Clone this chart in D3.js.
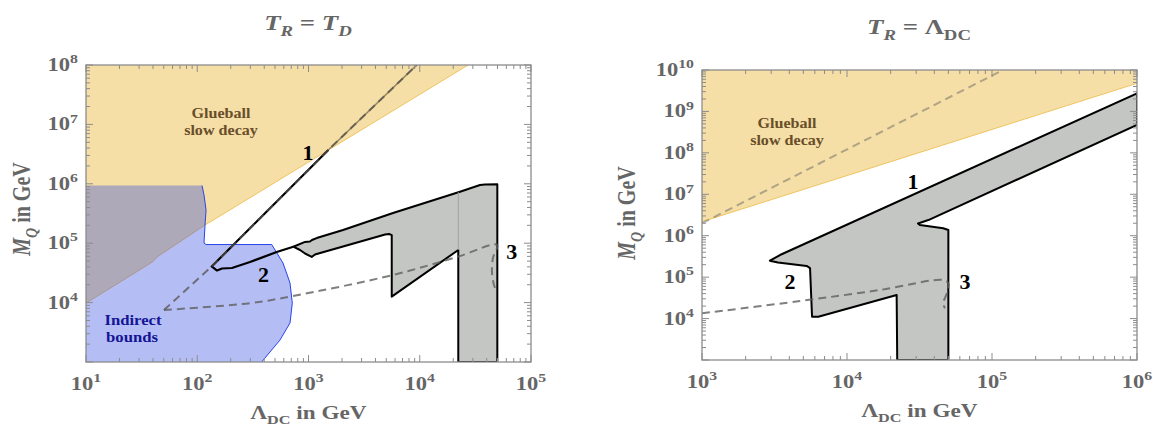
<!DOCTYPE html>
<html><head><meta charset="utf-8">
<script src="https://cdn.jsdelivr.net/npm/d3@7"></script>
<style>html,body{margin:0;padding:0;background:#fff}</style>
</head><body>
<svg id="c" width="1153" height="428"></svg>
<script>
// ---------------- DATA ----------------
// Left panel (T_R = T_D): x = Lambda_DC [GeV], y = M_Q [GeV]
const L_xTicks = [1e1, 1e2, 1e3, 1e4, 1e5];
const L_yTicks = [1e4, 1e5, 1e6, 1e7, 1e8];
const L_glueball = [[10,1e8],[2.72e4,1e8],[117.5,2.02e5],[43.5,5.86e4],[40,4.92e4],[37.6,4.55e4],[10,9.8e3]];
const L_indirect = [[10,9.35e5],[110.4,9.35e5],[115,6.47e5],[120,3.62e5],[117.5,2.02e5],[115,1.007e5],[120,9.5e4],
  [467,9.5e4],[590,4.64e4],[682,2.14e4],[715,9.8e3],[682,4.54e3],[554,2.34e3],[379,1e3],[10,1e3]];
const L_band = [[730,8.73e4],[931,1.05e5],[1031,1.07e5],[1074,1.13e5],[1185,1.22e5],[2044,1.67e5],[5754,3.22e5],
  [2.30e4,7.36e5],[3.48e4,9.55e5],[3.86e4,9.73e5],[4.98e4,9.8e5],[4.98e4,1e3],[2.22e4,1e3],[2.22e4,7.69e4],
  [5600,1.26e4],[5600,1.37e5],[5300,1.43e5],[4880,1.40e5],[1143,6.46e4],[1069,5.86e4],[931,6.71e4],[839,7.69e4]];
const L_bandSeam = [[2.22e4,7.69e4],[2.22e4,7.2e5]];
const L_line12 = [[1507,3.71e6],[134.9,4.06e4],[150.6,3.47e4],[166.9,3.75e4],[205,3.82e4],[298,4.83e4],[518,7.11e4],[730,8.73e4]];
const L_line1Ext = [[1507,3.71e6],[9.4e3,1e8]];
const L_dash1 = [[50.2,7.5e3],[134.9,4.06e4],[1507,3.71e6],[9.4e3,1e8]];
const L_dash2 = [[50.2,7.5e3],[298,9.8e3],[726,1.29e4],[5750,2.92e4],[2.16e4,5.86e4],[4.95e4,9.33e4],
  [4.55e4,5.64e4],[4.46e4,3.27e4],[4.65e4,1.98e4],[4.95e4,1.51e4]];
const L_labels = [["1",990,3.3e6],["2",393,2.92e4],["3",6.7e4,7.1e4]];

// Right panel (T_R = Lambda_DC)
const R_xTicks = [1e3, 1e4, 1e5, 1e6];
const R_yTicks = [1e4, 1e5, 1e6, 1e7, 1e8, 1e9, 1e10];
const R_glueball = [[1e3,1e10],[1e6,1e10],[1e6,4.77e9],[1e3,2.18e6]];
const R_band = [[1e6,2.74e9],[3.45e3,3.42e5],[2.94e3,2.5e5],[3.34e3,2.26e5],[5.27e3,1.86e5],[5.56e3,1.66e5],
  [5.74e3,1.11e4],[6.34e3,1.11e4],[2.2e4,3.71e4],[2.22e4,1e3],[5e4,1e3],[5e4,1.37e6],[4.61e4,1.51e6],
  [3.18e4,1.81e6],[3.09e4,1.97e6],[3.64e4,2.39e6],[1e6,4.7e8]];
const R_dash1 = [[1e3,2.0e6],[1.19e5,1e10]];
const R_dash2 = [[1e3,1.34e4],[4.74e3,2.65e4],[1.69e4,4.9e4],[4.61e4,8.53e4],[5.0e4,7.1e4],[4.88e4,4.07e4],[4.61e4,2.34e4],[4.74e4,1.77e4]];
const R_labels = [["1",2.85e4,2.0e7],["2",4.05e3,7.8e4],["3",6.5e4,7.8e4]];

// ---------------- DRAWING ----------------
const SERIF = '"Liberation Serif","DejaVu Serif","Times New Roman",serif';
const SX = 1.22;
const GRAY_TXT = '#666666';
const svg = d3.select('#c');

function rich(parent, x, y, segs, o) {
  const size = o.size, rot = o.rotate || 0;
  const tr = rot ? `translate(${x},${y}) rotate(${rot}) scale(1,${o.sx||SX})` : `translate(${x},${y}) scale(${o.sx||SX},1)`;
  const g = parent.append('g').attr('transform', tr);
  const t = g.append('text').attr('text-anchor', o.anchor || 'middle')
    .attr('font-family', SERIF).attr('font-weight', 'bold')
    .attr('font-size', size).attr('fill', o.fill || GRAY_TXT);
  let shift = 0;
  segs.forEach(s => {
    const ts = t.append('tspan').text(s.t);
    const target = s.sub ? size * 0.27 : s.sup ? -size * 0.42 : 0;
    ts.attr('dy', target - shift); shift = target;
    if (s.sub || s.sup) ts.attr('font-size', size * 0.7);
    if (s.i) ts.attr('font-style', 'italic');
  });
  return g;
}

function panel(cfg) {
  const x = d3.scaleLog().domain(cfg.xd).range([cfg.x0, cfg.x1]);
  const y = d3.scaleLog().domain(cfg.yd).range([cfg.y1, cfg.y0]);
  const g = svg.append('g');
  const clipId = 'clip' + cfg.id;
  svg.append('clipPath').attr('id', clipId).append('rect')
    .attr('x', cfg.x0).attr('y', cfg.y0).attr('width', cfg.x1 - cfg.x0).attr('height', cfg.y1 - cfg.y0);
  const pg = g.append('g').attr('clip-path', `url(#${clipId})`);
  const line = d3.line().x(d => x(d[0])).y(d => y(d[1]));
  return {x, y, g, pg, line};
}

function frameAndTicks(P, cfg) {
  const {x, y, g} = P;
  const col = '#8c8c8c';
  g.append('rect').attr('x', cfg.x0).attr('y', cfg.y0).attr('width', cfg.x1 - cfg.x0).attr('height', cfg.y1 - cfg.y0)
    .attr('fill', 'none').attr('stroke', col).attr('stroke-width', 1.3);
  const isMajor = v => Math.abs(Math.log10(v) - Math.round(Math.log10(v))) < 1e-6;
  const xt = x.ticks(); const yt = y.ticks();
  const tg = g.append('g').attr('stroke', col).attr('stroke-width', 1);
  xt.forEach(v => {
    const L = isMajor(v) ? 7 : 4, px = x(v);
    tg.append('line').attr('x1', px).attr('x2', px).attr('y1', cfg.y1).attr('y2', cfg.y1 - L);
    tg.append('line').attr('x1', px).attr('x2', px).attr('y1', cfg.y0).attr('y2', cfg.y0 + L);
  });
  yt.forEach(v => {
    const L = isMajor(v) ? 7 : 4, py = y(v);
    tg.append('line').attr('y1', py).attr('y2', py).attr('x1', cfg.x0).attr('x2', cfg.x0 + L);
    tg.append('line').attr('y1', py).attr('y2', py).attr('x1', cfg.x1).attr('x2', cfg.x1 - L);
  });
  cfg.xTicks.forEach(v => {
    rich(g, x(v), cfg.y1 + 28, [{t: '10'}, {t: String(Math.round(Math.log10(v))), sup: true}], {size: 18.5});
  });
  cfg.yTicks.forEach(v => {
    rich(g, cfg.x0 - 8, y(v) + 6, [{t: '10'}, {t: String(Math.round(Math.log10(v))), sup: true}], {size: 18.5, anchor: 'end'});
  });
  // axis titles
  rich(g, (cfg.x0 + cfg.x1) / 2, cfg.y1 + 57, [{t: 'Λ'}, {t: 'DC', sub: true}, {t: ' in GeV'}], {size: 19});
  rich(g, cfg.ytx, cfg.yty, [{t: 'M', i: true}, {t: 'Q', sub: true, i: true}, {t: ' in GeV'}], {size: 20, rotate: -90});
}

const cfgL = {id: 'L', x0: 86, x1: 531, y0: 65, y1: 362, xd: [10, 1e5], yd: [1e3, 1e8], xTicks: L_xTicks, yTicks: L_yTicks, ytx: 30, yty: 209};
const cfgR = {id: 'R', x0: 702, x1: 1137, y0: 70, y1: 360, xd: [1e3, 1e6], yd: [1e3, 1e10], xTicks: R_xTicks, yTicks: R_yTicks, ytx: 635, yty: 213};

const ORANGE = 'rgb(245,223,166)';
const BAND = 'rgb(196,198,195)';

// ---- Left panel ----
const PL = panel(cfgL);
{
  const {pg, line, x, y} = PL;
  pg.append('path').attr('d', line(L_glueball) + 'Z').attr('fill', ORANGE).attr('stroke', 'none');
  pg.append('path').attr('d', line(L_glueball.slice(1))).attr('fill', 'none').attr('stroke', 'rgb(240,196,96)').attr('stroke-width', 1);
  pg.append('path').attr('d', line(L_line1Ext)).attr('fill', 'none').attr('stroke', 'rgb(150,135,95)').attr('stroke-width', 1.6);
  pg.append('path').attr('d', line(L_indirect) + 'Z').attr('fill', 'rgb(37,64,223)').attr('fill-opacity', 0.34).attr('stroke', 'none');
  pg.append('path').attr('d', line(L_indirect.slice(1, -1))).attr('fill', 'none').attr('stroke', 'rgb(40,70,235)').attr('stroke-width', 1);
  pg.append('path').attr('d', line(L_band) + 'Z').attr('fill', BAND).attr('stroke', '#000').attr('stroke-width', 2).attr('stroke-linejoin', 'round');
  pg.append('path').attr('d', line(L_bandSeam)).attr('stroke', 'rgb(160,162,160)').attr('stroke-width', 1);
  pg.append('path').attr('d', line(L_line12)).attr('fill', 'none').attr('stroke', '#000').attr('stroke-width', 2.2).attr('stroke-linejoin', 'round');
  pg.append('path').attr('d', line(L_dash1)).attr('fill', 'none').attr('stroke', 'rgba(85,82,78,0.75)').attr('stroke-width', 2).attr('stroke-dasharray', '8,5');
  pg.append('path').attr('d', d3.line().x(d => x(d[0])).y(d => y(d[1])).curve(d3.curveCatmullRom)(L_dash2))
    .attr('fill', 'none').attr('stroke', 'rgba(95,95,95,0.8)').attr('stroke-width', 2).attr('stroke-dasharray', '8,5');
  // region labels
  rich(PL.g, 221, 118, [{t: 'Glueball'}], {size: 14, fill: 'rgb(105,78,42)', sx: 1.15});
  rich(PL.g, 221, 135, [{t: 'slow decay'}], {size: 14, fill: 'rgb(105,78,42)', sx: 1.15});
  rich(PL.g, 133, 325, [{t: 'Indirect'}], {size: 14.5, fill: 'rgb(20,20,150)', sx: 1.15});
  rich(PL.g, 132, 342, [{t: 'bounds'}], {size: 14.5, fill: 'rgb(20,20,150)', sx: 1.15});
  L_labels.forEach(d => rich(PL.g, x(d[1]), y(d[2]) + 7, [{t: d[0]}], {size: 20, fill: '#000', sx: 1.1}));
}
frameAndTicks(PL, cfgL);
rich(svg, 308, 30, [{t: 'T', i: true}, {t: 'R', sub: true, i: true}, {t: ' = '}, {t: 'T', i: true}, {t: 'D', sub: true, i: true}], {size: 22});

// ---- Right panel ----
const PR = panel(cfgR);
{
  const {pg, line, x, y} = PR;
  pg.append('path').attr('d', line(R_glueball) + 'Z').attr('fill', ORANGE).attr('stroke', 'none');
  pg.append('path').attr('d', line(R_glueball.slice(2))).attr('fill', 'none').attr('stroke', 'rgb(240,196,96)').attr('stroke-width', 1);
  pg.append('path').attr('d', line(R_band) + 'Z').attr('fill', BAND).attr('stroke', '#000').attr('stroke-width', 2).attr('stroke-linejoin', 'round');
  pg.append('path').attr('d', line(R_dash1)).attr('fill', 'none').attr('stroke', 'rgba(90,90,90,0.45)').attr('stroke-width', 2).attr('stroke-dasharray', '8,5');
  pg.append('path').attr('d', d3.line().x(d => x(d[0])).y(d => y(d[1])).curve(d3.curveCatmullRom)(R_dash2))
    .attr('fill', 'none').attr('stroke', 'rgba(95,95,95,0.8)').attr('stroke-width', 2).attr('stroke-dasharray', '8,5');
  rich(PR.g, 787, 128, [{t: 'Glueball'}], {size: 14, fill: 'rgb(105,78,42)', sx: 1.15});
  rich(PR.g, 787, 145, [{t: 'slow decay'}], {size: 14, fill: 'rgb(105,78,42)', sx: 1.15});
  R_labels.forEach(d => rich(PR.g, x(d[1]), y(d[2]) + 7, [{t: d[0]}], {size: 20, fill: '#000', sx: 1.1}));
}
frameAndTicks(PR, cfgR);
rich(svg, 919, 34, [{t: 'T', i: true}, {t: 'R', sub: true, i: true}, {t: ' = Λ'}, {t: 'DC', sub: true}], {size: 22});
</script>
</body></html>
